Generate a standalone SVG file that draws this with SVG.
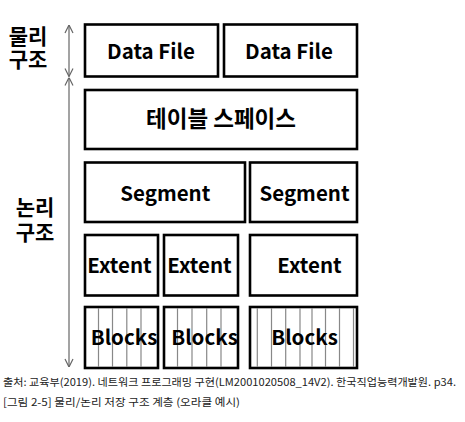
<svg xmlns="http://www.w3.org/2000/svg" width="465" height="422" viewBox="0 0 465 422">
<defs>
<style>
.box{fill:#fff;stroke:#000;stroke-width:2.6}
.stripe{stroke:#888;stroke-width:1.2}
.lbl{font-family:"Noto Sans CJK KR","Noto Sans",sans-serif;font-weight:700;font-size:20.5px;fill:#000;text-anchor:middle}
.kor{font-family:"Noto Sans CJK KR",sans-serif;font-weight:700;font-size:21px;fill:#000;text-anchor:middle}
.ts{font-family:"Noto Sans CJK KR",sans-serif;font-weight:700;font-size:22.5px;fill:#000;text-anchor:middle}
.cap{font-family:"Noto Sans CJK KR",sans-serif;font-size:10.5px;fill:#222}
.arr{stroke:#666;stroke-width:1.2;fill:none}
</style>
<marker id="ah" viewBox="0 0 10 10" refX="10" refY="5" markerWidth="10" markerHeight="10" markerUnits="userSpaceOnUse" orient="auto-start-reverse">
<path d="M2,1 L10,5 L2,9" fill="none" stroke="#666" stroke-width="1.2"/>
</marker>
</defs>
<rect width="465" height="422" fill="#fff"/>
<g id="connectors">
<line class="arr" x1="69" y1="25" x2="69" y2="76.5" marker-start="url(#ah)" marker-end="url(#ah)"/>
<line class="arr" x1="69" y1="77.5" x2="69" y2="367" marker-start="url(#ah)" marker-end="url(#ah)"/>
</g>
<g id="label-physical">
<text class="kor" x="28" y="43.5">물리<tspan x="28" y="66.5">구조</tspan></text>
</g>
<g id="label-logical">
<text class="kor" x="35" y="215">논리<tspan x="35" y="240">구조</tspan></text>
</g>
<g id="datafile1"><rect class="box" x="85" y="24.5" width="133" height="52"/><text class="lbl" x="151" y="58.5">Data File</text></g>
<g id="datafile2"><rect class="box" x="224" y="24.5" width="133" height="52"/><text class="lbl" x="289" y="58.5">Data File</text></g>
<g id="tablespace"><rect class="box" x="85" y="90" width="272" height="59"/><text class="ts" x="221" y="127">테이블 스페이스</text></g>
<g id="segment1"><rect class="box" x="85" y="162.5" width="160" height="59.5"/><text class="lbl" x="165.3" y="200.5">Segment</text></g>
<g id="segment2"><rect class="box" x="250" y="162.5" width="107" height="59.5"/><text class="lbl" x="304.5" y="200.5">Segment</text></g>
<g id="extent1"><rect class="box" x="85" y="235" width="73" height="60.5"/><text class="lbl" x="119.5" y="272.5">Extent</text></g>
<g id="extent2"><rect class="box" x="164" y="235" width="74" height="60.5"/><text class="lbl" x="199.5" y="272.5">Extent</text></g>
<g id="extent3"><rect class="box" x="250" y="235" width="107" height="60.5"/><text class="lbl" x="309.5" y="272.5">Extent</text></g>
<g id="blocks1"><rect class="box" x="85" y="307" width="73" height="61"/>
<g class="stripe"><line x1="98.5" y1="308" x2="98.5" y2="367"/><line x1="112.5" y1="308" x2="112.5" y2="367"/><line x1="126.8" y1="308" x2="126.8" y2="367"/><line x1="141" y1="308" x2="141" y2="367"/></g>
<text class="lbl" x="124" y="345">Blocks</text></g>
<g id="blocks2"><rect class="box" x="164" y="307" width="74" height="61"/>
<g class="stripe"><line x1="177.5" y1="308" x2="177.5" y2="367"/><line x1="192" y1="308" x2="192" y2="367"/><line x1="206.7" y1="308" x2="206.7" y2="367"/><line x1="221" y1="308" x2="221" y2="367"/></g>
<text class="lbl" x="204.5" y="345">Blocks</text></g>
<g id="blocks3"><rect class="box" x="250" y="307" width="107" height="61"/>
<g class="stripe"><line x1="257.3" y1="308" x2="257.3" y2="367"/><line x1="271.5" y1="308" x2="271.5" y2="367"/><line x1="285.7" y1="308" x2="285.7" y2="367"/><line x1="300" y1="308" x2="300" y2="367"/><line x1="312" y1="308" x2="312" y2="367"/><line x1="325.5" y1="308" x2="325.5" y2="367"/><line x1="339.5" y1="308" x2="339.5" y2="367"/><line x1="353.5" y1="308" x2="353.5" y2="367"/></g>
<text class="lbl" x="304.5" y="345">Blocks</text></g>
<g id="caption">
<text class="cap" x="3" y="386" textLength="453" lengthAdjust="spacingAndGlyphs">출처: 교육부(2019). 네트워크 프로그래밍 구현(LM2001020508_14V2). 한국직업능력개발원. p34.</text>
<text class="cap" x="3" y="405.5" textLength="237" lengthAdjust="spacingAndGlyphs">[그림 2-5] 물리/논리 저장 구조 계층 (오라클 예시)</text>
</g>
</svg>
